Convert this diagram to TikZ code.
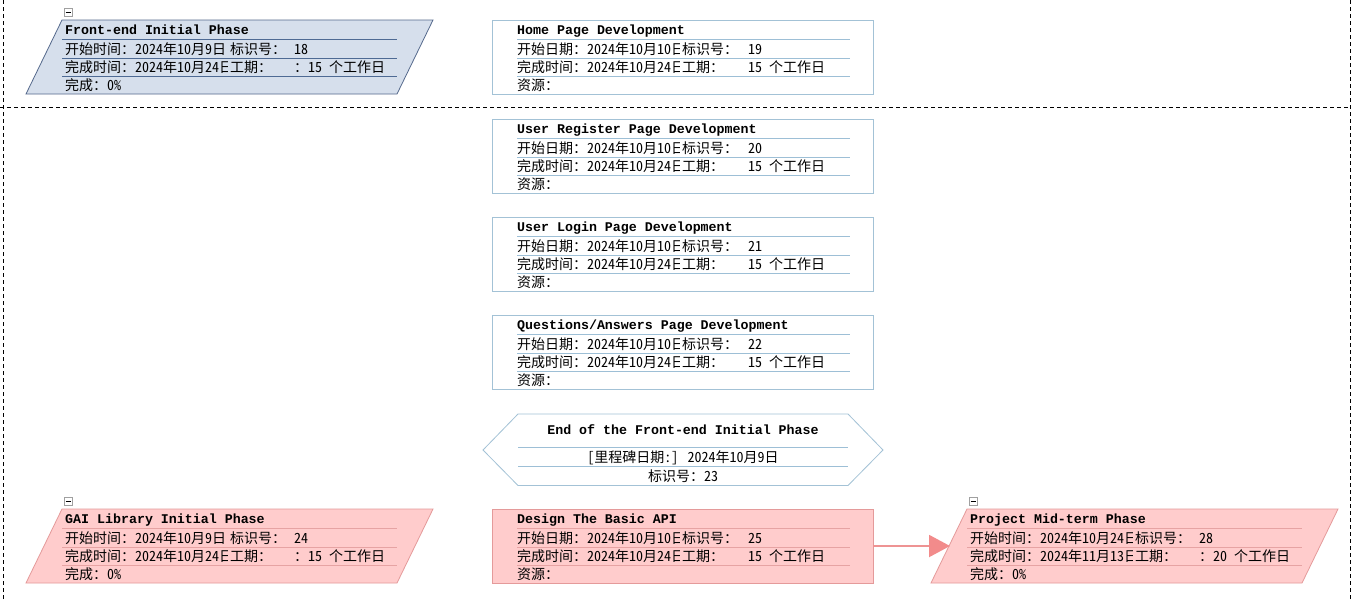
\documentclass[tikz,border=0pt]{standalone}
\usepackage{fontspec}
\newfontfamily\cjkbody[RawFeature=+hwid]{Noto Sans CJK SC}
\newfontfamily\ttlfont{Liberation Mono}
\usetikzlibrary{arrows.meta}
\definecolor{bluefill}{HTML}{D6DFEC}
\definecolor{blueborder}{HTML}{55698C}
\definecolor{blueline}{HTML}{4E6A94}
\definecolor{rectborder}{HTML}{A3C2D6}
\definecolor{rectline}{HTML}{9DBFD6}
\definecolor{redfill}{HTML}{FFCCCC}
\definecolor{redborder}{HTML}{E49A9A}
\definecolor{redline}{HTML}{E6A3A3}
\definecolor{arrowline}{HTML}{EE9393}
\definecolor{arrowhead}{HTML}{F28B8B}
\definecolor{iconborder}{HTML}{A0A0A0}
\newcommand\cutch[1]{\makebox[8pt][l]{#1}}
\tikzset{
  body/.style={anchor=base west, inner sep=0pt, font=\cjkbody\fontsize{14}{16}\selectfont, text=black},
  bodyc/.style={anchor=base, inner sep=0pt, font=\cjkbody\fontsize{14}{16}\selectfont, text=black},
  ttext/.style={anchor=base west, inner sep=0pt, font=\ttlfont\bfseries\fontsize{13.3}{15}\selectfont},
  ttextc/.style={anchor=base, inner sep=0pt, font=\ttlfont\bfseries\fontsize{13.3}{15}\selectfont},
  rectbox/.style={draw, minimum width=381pt, minimum height=74pt, inner sep=0pt, line width=0.8pt},
  pblue/.style={fill=bluefill, draw=blueborder, line width=0.8pt},
  pred/.style={fill=redfill, draw=redborder, line width=0.8pt},
  rwhite/.style={fill=white, draw=rectborder},
  rred/.style={fill=redfill, draw=redborder},
  sblue/.style={draw=blueline, line width=0.8pt},
  swhite/.style={draw=rectline, line width=0.8pt},
  sred/.style={draw=redline, line width=0.8pt},
  hexb/.style={draw=rectborder, fill=white, line width=0.8pt},
  collapse/.style={draw=iconborder, fill=white, minimum size=8pt, inner sep=0pt, line width=0.6pt},
  frame/.style={draw=black, line width=1pt, dash pattern=on 4pt off 3pt},
  flow/.style={draw=arrowline, line width=2pt, -{Triangle[length=21pt,width=22pt,color=arrowhead]}}
}
% #1 name #2 x (top-left) #3 y (top) #4 scheme #5 title #6 start #7 id #8 finish #9 duration
\newcommand\phasebox[9]{%
  \draw[p#4] (#2,#3) -- (#2+371,#3) -- (#2+335,#3+74) -- (#2-36,#3+74) -- cycle;
  \coordinate (#1) at (#2+167.5,#3+37);
  \foreach \dy in {19,38,56} \draw[s#4] (#2,#3+\dy) -- (#2+335,#3+\dy);
  \node[ttext] (#1-t) at (#2+3,#3+14) {#5};
  \begin{scope}
    \clip (#2,#3+19) rectangle (#2+165,#3+56);
    \node[body] (#1-s) at (#2+3,#3+34) {开始时间：#6};
    \node[body] (#1-f) at (#2+3,#3+52.5) {完成时间：#8};
  \end{scope}
  \node[body] (#1-il) at (#2+168,#3+34) {标识号：};
  \node[body] (#1-i) at (#2+232,#3+34) {#7};
  \node[body] (#1-dl) at (#2+168,#3+52.5) {工期：};
  \node[body] (#1-d) at (#2+232,#3+52.5) {：#9 个工作日};
  \node[body] (#1-c) at (#2+3,#3+70.5) {完成：0\%};
  \node[collapse] (#1-x) at (#2+6,#3-8) {};
  \draw[line width=0.8pt] ([xshift=-2.5pt]#1-x.center) -- ([xshift=2.5pt]#1-x.center);
}
% #1 name #2 y (top) #3 scheme #4 title #5 start #6 id #7 finish #8 duration
\newcommand\taskrect[8]{%
  \node[rectbox, r#3] (#1) at (682.5,#2+37) {};
  \foreach \dy in {19,38,56} \draw[s#3] (517,#2+\dy) -- (850,#2+\dy);
  \node[ttext] (#1-t) at (517,#2+14) {#4};
  \begin{scope}
    \clip (517,#2+19) rectangle (679,#2+56);
    \node[body] (#1-s) at (517,#2+34) {开始日期：#5};
    \node[body] (#1-f) at (517,#2+52.5) {完成时间：#7};
  \end{scope}
  \node[body] (#1-il) at (682,#2+34) {标识号：};
  \node[body] (#1-i) at (748,#2+34) {#6};
  \node[body] (#1-dl) at (682,#2+52.5) {工期：};
  \node[body] (#1-d) at (748,#2+52.5) {#8 个工作日};
  \node[body] (#1-r) at (517,#2+70.5) {资源：};
}
\begin{document}
\begin{tikzpicture}[x=1pt,y=-1pt]
\useasboundingbox (0,0) rectangle (1352,600);
\fill[white] (0,0) rectangle (1352,600);
% dashed frame
\draw[frame] (3.5,0) -- (3.5,600);
\draw[frame] (1350,0) -- (1350,600);
\draw[frame] (0,107.5) -- (1350,107.5);
% phases
\phasebox{front}{62}{20}{blue}{Front-end Initial Phase}{2024年10月9日}{18}{2024年10月24\cutch{日}}{15}
\phasebox{gai}{62}{509}{red}{GAI Library Initial Phase}{2024年10月9日}{24}{2024年10月24\cutch{日}}{15}
\phasebox{mid}{967}{509}{red}{Project Mid-term Phase}{2024年10月24\cutch{日}}{28}{2024年11月13\cutch{日}}{20}
% tasks
\taskrect{home}{20}{white}{Home Page Development}{2024年10月10\cutch{日}}{19}{2024年10月24\cutch{日}}{15}
\taskrect{reg}{119}{white}{User Register Page Development}{2024年10月10\cutch{日}}{20}{2024年10月24\cutch{日}}{15}
\taskrect{login}{217}{white}{User Login Page Development}{2024年10月10\cutch{日}}{21}{2024年10月24\cutch{日}}{15}
\taskrect{qa}{315}{white}{Questions/Answers Page Development}{2024年10月10\cutch{日}}{22}{2024年10月24\cutch{日}}{15}
\taskrect{api}{509}{red}{Design The Basic API}{2024年10月10\cutch{日}}{25}{2024年10月24\cutch{日}}{15}
% milestone
\draw[hexb] (483,450) -- (518,414) -- (848,414) -- (883,450) -- (848,485.5) -- (518,485.5) -- cycle;
\coordinate (mile) at (683,450);
\draw[swhite] (518,447) -- (848,447);
\draw[swhite] (518,466) -- (848,466);
\node[ttextc] (mile-t) at (683,434) {End of the Front-end Initial Phase};
\node[bodyc] (mile-d) at (683,462) {[里程碑日期:] 2024年10月9日};
\node[bodyc] (mile-i) at (683,481) {标识号：23};
% connector
\coordinate (midin) at (950,546);
\draw[flow] (api.east) -- (midin);
\end{tikzpicture}
\end{document}
